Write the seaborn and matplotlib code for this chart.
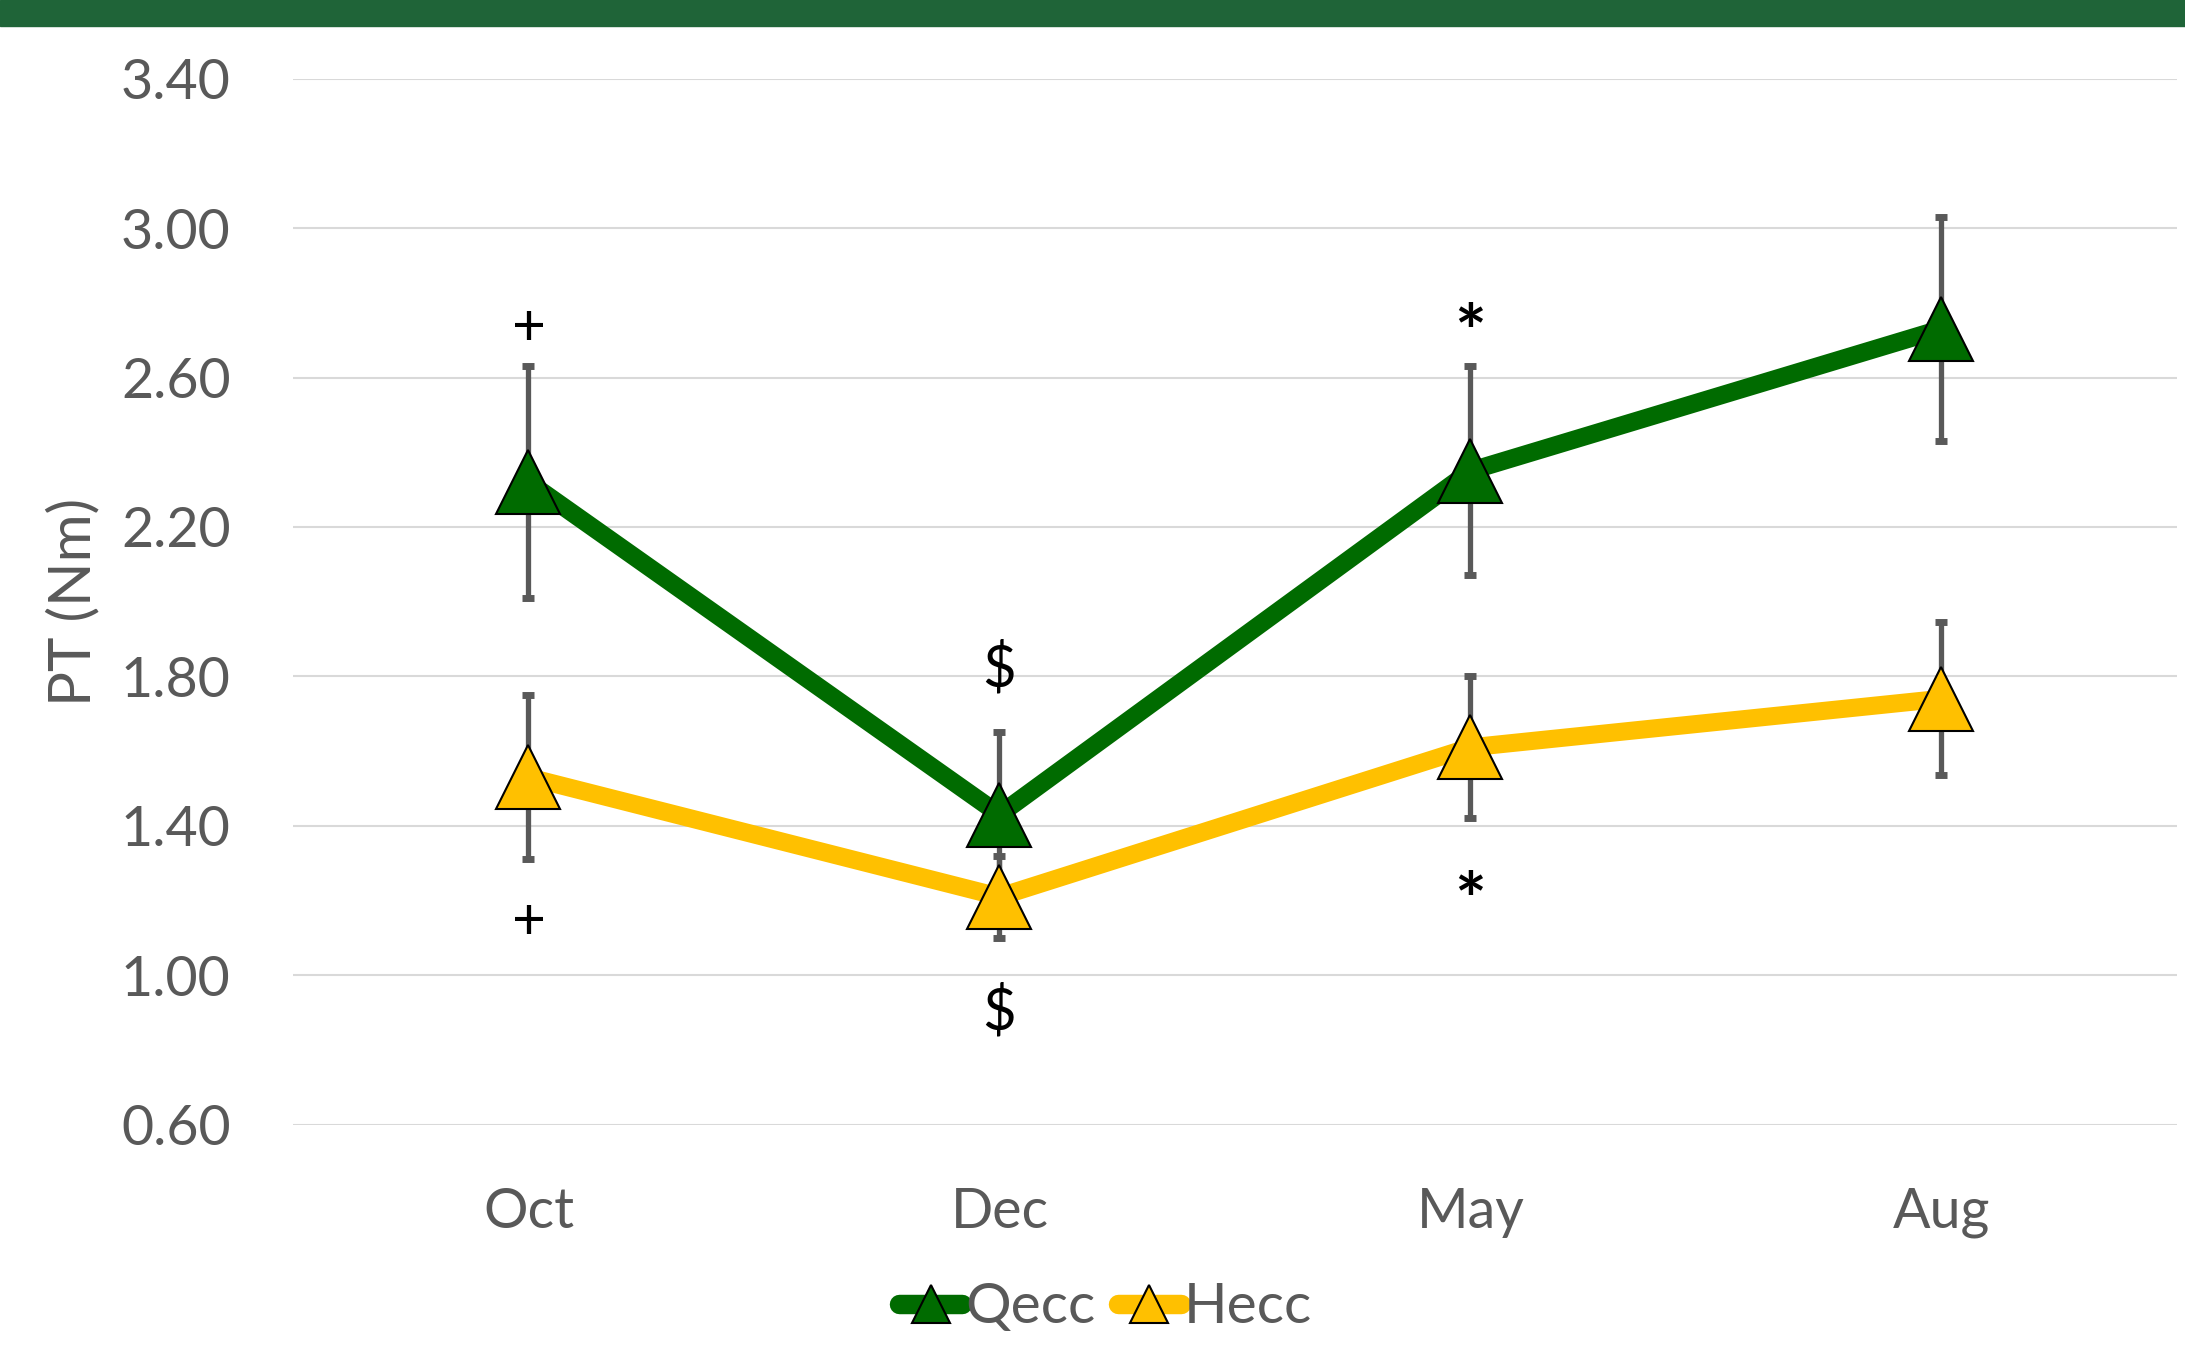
import numpy as np
import pandas as pd
import matplotlib
matplotlib.use("Agg")
import matplotlib.pyplot as plt
from matplotlib.lines import Line2D
from matplotlib.patches import Rectangle
import seaborn as sns

# data
MONTHS = ["Oct", "Dec", "May", "Aug"]
QECC = [2.32, 1.43, 2.35, 2.73]
QECC_SD = [0.31, 0.22, 0.28, 0.30]
HECC = [1.53, 1.21, 1.61, 1.74]
HECC_SD = [0.22, 0.11, 0.19, 0.205]

# significance marks (month index, y value)
MARKS = ["+", "+", "$", "$", "*", "*"]
MARK_X = [0, 0, 1, 1, 2, 2]
MARK_Y = [2.73, 1.14, 1.82, 0.90, 2.71, 1.19]

YTICKS = [0.60, 1.00, 1.40, 1.80, 2.20, 2.60, 3.00, 3.40]

COLORS = {"Qecc": "#006B00", "Hecc": "#FFC000"}
TEXT_GRAY = "#595959"

sns.set_theme(style="white")
plt.rcParams["font.family"] = ["Lato", "DejaVu Sans"]

df = pd.DataFrame({
    "month": MONTHS * 2,
    "pt": QECC + HECC,
    "group": ["Qecc"] * 4 + ["Hecc"] * 4,
})

fig = plt.figure(figsize=(21.85, 13.47), dpi=100)
ax = fig.add_axes([0.1341, 0.1651, 0.9963 - 0.1341, 0.9416 - 0.1651])

# lines first, markers on top of error bars
sns.lineplot(data=df, x="month", y="pt", hue="group", palette=COLORS,
             sort=False, linewidth=13, legend=False, ax=ax, zorder=2,
             solid_joinstyle="round")

xpos = np.arange(len(MONTHS))
for vals, sd in [(QECC, QECC_SD), (HECC, HECC_SD)]:
    ax.errorbar(xpos, vals, yerr=sd, fmt="none", ecolor=TEXT_GRAY,
                elinewidth=3.8, capsize=4.5, capthick=5, zorder=3)

for name, vals in [("Qecc", QECC), ("Hecc", HECC)]:
    ax.plot(xpos, vals, linestyle="none", marker="^", markersize=46,
            markerfacecolor=COLORS[name], markeredgecolor="black",
            markeredgewidth=1.5, zorder=4)

for m, x, y in zip(MARKS, MARK_X, MARK_Y):
    if m == "*":
        ax.text(x, y, m, ha="center", va="center", fontsize=54,
                fontweight="bold", color="black", zorder=5)
    else:
        ax.text(x, y, m, ha="center", va="center", fontsize=42,
                color="black", zorder=5)

ax.set_xlim(-0.5, 3.5)
ax.set_ylim(0.6, 3.4)
ax.set_yticks(YTICKS)
ax.set_yticklabels([f"{v:.2f}" for v in YTICKS])
ax.yaxis.grid(True, color="#D9D9D9", linewidth=1.5)
ax.set_axisbelow(True)
for s in ax.spines.values():
    s.set_visible(False)
ax.tick_params(axis="both", length=0, labelsize=40, colors=TEXT_GRAY)
ax.tick_params(axis="y", pad=45)
ax.tick_params(axis="x", pad=45)
ax.set_xlabel("")
ax.set_ylabel("PT (Nm)", fontsize=42, color=TEXT_GRAY)
ax.yaxis.set_label_coords(-0.1024, 0.5)

handles = [
    Line2D([0], [0], color=COLORS[n], linewidth=14, solid_capstyle="round",
           marker="^", markersize=28, markerfacecolor=COLORS[n],
           markeredgecolor="black", markeredgewidth=1.5)
    for n in ["Qecc", "Hecc"]
]
leg = fig.legend(handles, ["Qecc", "Hecc"], loc="center", ncol=2,
                 bbox_to_anchor=(0.506, 0.0290), frameon=False,
                 fontsize=41, handlelength=1.1, handletextpad=0.05,
                 columnspacing=0.4, labelcolor=TEXT_GRAY)

# dark green band across the top
fig.patches.append(Rectangle((0, 1 - 26 / 1347), 1, 26 / 1347,
                             transform=fig.transFigure, color="#1F6438",
                             zorder=10))

fig.savefig("out.png", dpi=100)
